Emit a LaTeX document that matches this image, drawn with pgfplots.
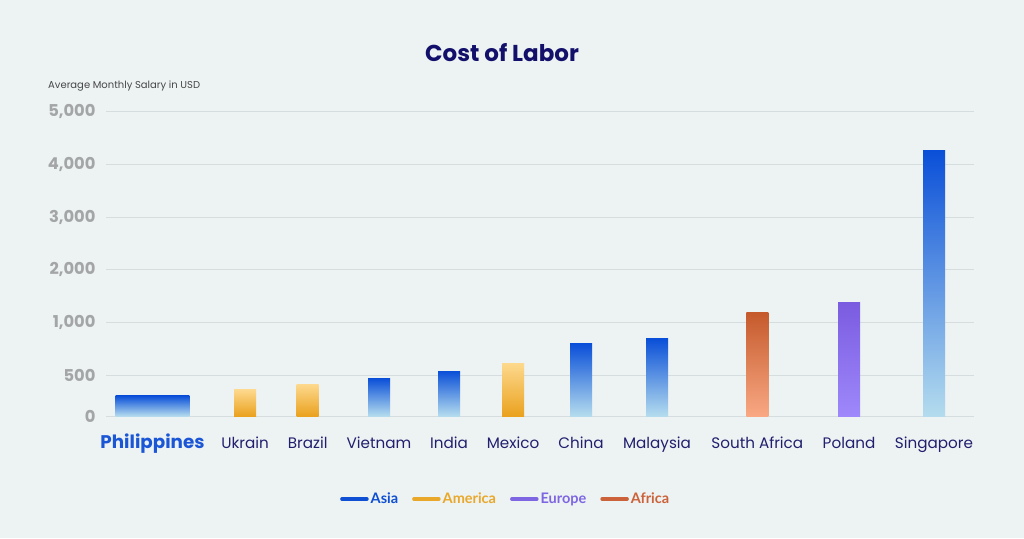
\documentclass[border=0pt]{standalone}
\usepackage{pgfplots}
\pgfplotsset{compat=1.18}
\usepackage{fontspec}
\setmainfont{Poppins}
\newfontfamily\legfont{Lato}

\definecolor{bgc}{HTML}{EDF2F3}
\definecolor{gridc}{HTML}{D6DDDE}
\definecolor{titlec}{HTML}{13106B}
\definecolor{xlab}{HTML}{221F6E}
\definecolor{ylab}{HTML}{A3A5A6}
\definecolor{phil}{HTML}{1A56D6}
\definecolor{asiatop}{HTML}{0A4FD8}
\definecolor{asiabot}{HTML}{B4DCEE}
\definecolor{amertop}{HTML}{FDD88C}
\definecolor{amerbot}{HTML}{EAA21F}
\definecolor{afrtop}{HTML}{C55A2C}
\definecolor{afrbot}{HTML}{F9A883}
\definecolor{eurtop}{HTML}{7A5CE0}
\definecolor{eurbot}{HTML}{9E88FB}
\definecolor{asial}{HTML}{0F4FD3}
\definecolor{amerl}{HTML}{E9A82A}
\definecolor{eurl}{HTML}{7E66E2}
\definecolor{afrl}{HTML}{CC6239}

\pgfplotsset{
  asia/.style={top color=asiatop, bottom color=asiabot},
  amer/.style={top color=amertop, bottom color=amerbot},
  afr/.style={top color=afrtop, bottom color=afrbot},
  eur/.style={top color=eurtop, bottom color=eurbot},
  onebar/.style={ybar, bar width=22, bar shift=0pt, draw=none, forget plot},
}

\begin{document}
\begin{tikzpicture}[x=1pt,y=1pt]
\fill[bgc] (0,0) rectangle (1024,538);

\begin{axis}[
    at={(106pt,122pt)}, anchor=south west,
    scale only axis,
    width=868pt, height=304.3pt,
    xmin=106, xmax=974,
    ymin=0, ymax=5000,
    % the source axis is not linear: 0-500 is shorter than the later steps
    y coord trafo/.code={\pgfmathparse{#1<=500 ? #1*0.0806 : (#1<=1000 ? 40.3+(#1-500)*0.106 : 93.3+(#1-1000)*0.05275)}},
    ytick={0,500,1000,2000,3000,4000,5000},
    yticklabels={0,500,{1,000},{2,000},{3,000},{4,000},{5,000}},
    xtick={152.5,245,307.7,379,449,513,581,657,757.3,849,934},
    xticklabels={{\color{phil}\fontsize{18.3}{18}\selectfont\bfseries Philippines},Ukrain,Brazil,Vietnam,India,Mexico,China,Malaysia,South Africa,Poland,Singapore},
    xticklabel style={font=\fontsize{15.2}{15}\selectfont, text=xlab, anchor=base, yshift=-32pt},
    yticklabel style={font=\fontsize{16.3}{16}\selectfont\bfseries, text=ylab, xshift=-7pt},
    ymajorgrids,
    grid style={gridc, line width=1pt},
    axis line style={draw=none},
    major tick length=0pt,
    clip=false,
    legend style={draw=none, fill=none, at={(0.4605,-0.273)}, anchor=center,
        legend columns=-1, font=\legfont\fontsize{14.5}{14}\selectfont\bfseries,
        /tikz/every even column/.append style={column sep=12pt},
        inner sep=0pt},
    legend image code/.code={\draw[line width=3.5pt, line cap=round, #1] (0pt,0pt) -- (25pt,0pt);},
]
\addplot[onebar, asia, bar width=73.6] coordinates {(152.5,252)};
\addplot[onebar, amer] coordinates {(245,323)};
\addplot[onebar, amer] coordinates {(307.7,389)};
\addplot[onebar, asia] coordinates {(379,468)};
\addplot[onebar, asia] coordinates {(449,544)};
\addplot[onebar, amer] coordinates {(513,613)};
\addplot[onebar, asia] coordinates {(581,802)};
\addplot[onebar, asia] coordinates {(657,849)};
\addplot[onebar, afr] coordinates {(757.3,1197)};
\addplot[onebar, eur] coordinates {(849,1392)};
\addplot[onebar, asia] coordinates {(934,4268)};

\addlegendimage{asial}
\addlegendentry{\textcolor{asial}{Asia}}
\addlegendimage{amerl}
\addlegendentry{\textcolor{amerl}{America}}
\addlegendimage{eurl}
\addlegendentry{\textcolor{eurl}{Europe}}
\addlegendimage{afrl}
\addlegendentry{\textcolor{afrl}{Africa}}
\end{axis}

\node[text=titlec, font=\fontsize{23}{23}\selectfont\bfseries] at (502,485) {Cost of Labor};
\node[anchor=west, inner sep=0pt, text=black!72, font=\fontsize{10}{10}\selectfont] at (48,452) {Average Monthly Salary in USD};

\pgfresetboundingbox
\useasboundingbox (0,0) rectangle (1024,538);
\end{tikzpicture}
\end{document}
